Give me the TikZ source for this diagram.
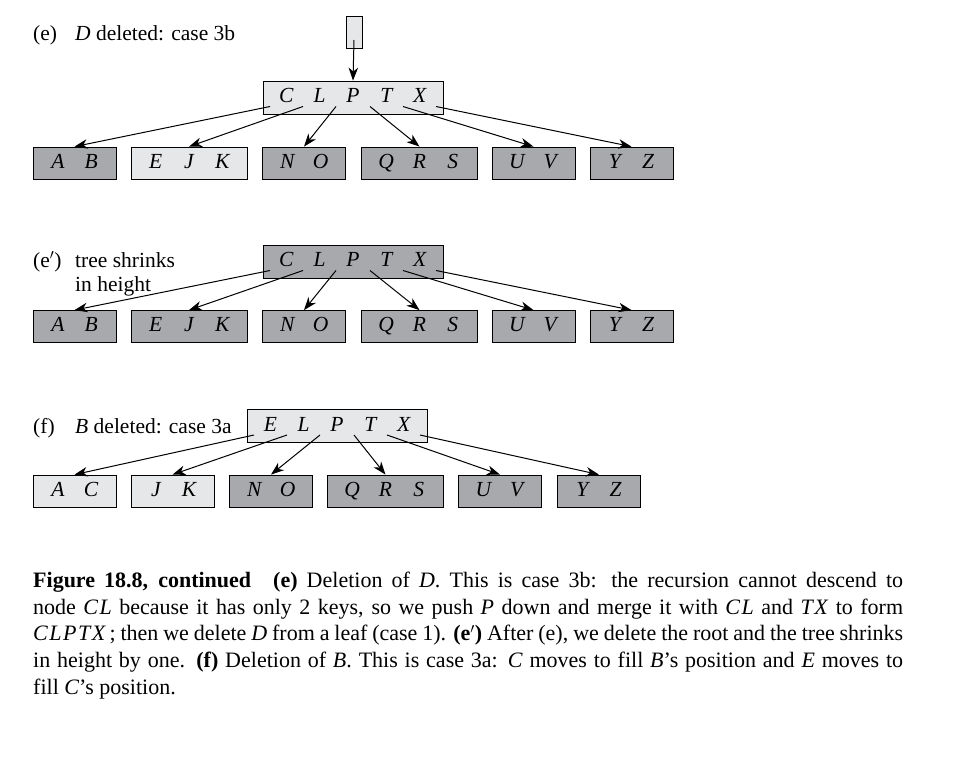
\documentclass[tikz,border=0pt]{standalone}
\usepackage{fontspec}
\setmainfont{Liberation Serif}
\usetikzlibrary{arrows.meta}
\definecolor{keylight}{HTML}{E6E7E8}
\definecolor{keydark}{HTML}{A7A9AC}
\newcommand{\ky}[1]{\makebox[33.3pt]{\itshape\vphantom{Q}#1}}
\newcommand{\kk}[1]{\textit{#1}}
\tikzset{
  btree/.style={draw, line width=0.8pt, inner sep=0pt, minimum height=32pt,
    font=\fontsize{21.5}{24}\selectfont},
  light/.style={btree, fill=keylight},
  dark/.style={btree, fill=keydark},
  two/.style={minimum width=83pt},
  three/.style={minimum width=116pt},
  five/.style={minimum width=180pt, minimum height=33pt},
  caselabel/.style={anchor=base west, inner sep=0pt, font=\fontsize{21.5}{24}\selectfont},
  ptr/.style={-{Stealth[length=13pt,width=9.5pt,inset=4pt]}, line width=1pt},
}
\begin{document}
\begin{tikzpicture}[x=1pt, y=-1pt]
      \useasboundingbox (0,0) rectangle (956,757);
      % (e) D deleted
      \node[caselabel] (elab) at (33,41) {(e)};
      \node[caselabel] (etext) at (75,41) {\textit{D} deleted: case 3b};
      \node[light, minimum width=16pt] (etop) at (354,32) {};
      \node[light, five] (eroot) at (353,97.5) {\ky{C}\ky{L}\ky{P}\ky{T}\ky{X}};
      \node[dark, two] (eab) at (74.5,163) {\ky{A}\ky{B}};
      \node[light, three] (eejk) at (189,163) {\ky{E}\ky{J}\ky{K}};
      \node[dark, two] (eno) at (304,163) {\ky{N}\ky{O}};
      \node[dark, three] (eqrs) at (419.5,163) {\ky{Q}\ky{R}\ky{S}};
      \node[dark, two] (euv) at (533.5,163) {\ky{U}\ky{V}};
      \node[dark, two] (eyz) at (631.5,163) {\ky{Y}\ky{Z}};
      \path
        (354,40) coordinate (etopp)
        (270,106.5) coordinate (e0)
        (303,106.5) coordinate (e1)
        (336,106.5) coordinate (e2)
        (370,106.5) coordinate (e3)
        (403,106.5) coordinate (e4)
        (436,106.5) coordinate (e5);
      % (e') tree shrinks
      \node[caselabel] (eplab) at (33,267) {(e$'$)};
      \node[caselabel] (eptext) at (75,267) {tree shrinks};
      \node[caselabel] (eptext2) at (75,291) {in height};
      \node[dark, five] (eproot) at (353,261.5) {\ky{C}\ky{L}\ky{P}\ky{T}\ky{X}};
      \node[dark, two] (epab) at (74.5,326.5) {\ky{A}\ky{B}};
      \node[dark, three] (epejk) at (189,326.5) {\ky{E}\ky{J}\ky{K}};
      \node[dark, two] (epno) at (304,326.5) {\ky{N}\ky{O}};
      \node[dark, three] (epqrs) at (419.5,326.5) {\ky{Q}\ky{R}\ky{S}};
      \node[dark, two] (epuv) at (533.5,326.5) {\ky{U}\ky{V}};
      \node[dark, two] (epyz) at (631.5,326.5) {\ky{Y}\ky{Z}};
      \path
        (270,270.5) coordinate (ep0)
        (303,270.5) coordinate (ep1)
        (336,270.5) coordinate (ep2)
        (370,270.5) coordinate (ep3)
        (403,270.5) coordinate (ep4)
        (436,270.5) coordinate (ep5);
      % (f) B deleted
      \node[caselabel] (flab) at (33,433) {(f)};
      \node[caselabel] (ftext) at (75,433) {\textit{B} deleted: case 3a};
      \node[light, five] (froot) at (337,426) {\ky{E}\ky{L}\ky{P}\ky{T}\ky{X}};
      \node[light, two] (fac) at (74.5,491) {\ky{A}\ky{C}};
      \node[light, two] (fjk) at (172.5,491) {\ky{J}\ky{K}};
      \node[dark, two] (fno) at (271,491) {\ky{N}\ky{O}};
      \node[dark, three] (fqrs) at (385.5,491) {\ky{Q}\ky{R}\ky{S}};
      \node[dark, two] (fuv) at (500,491) {\ky{U}\ky{V}};
      \node[dark, two] (fyz) at (599,491) {\ky{Y}\ky{Z}};
      \path
        (254,435) coordinate (f0)
        (287,435) coordinate (f1)
        (320,435) coordinate (f2)
        (354,435) coordinate (f3)
        (387,435) coordinate (f4)
        (420,435) coordinate (f5);
      \begin{scope}[ptr]
        \draw (etopp) to (eroot.north);
        \draw (e0) to (eab.north);
        \draw (e1) to (eejk.north);
        \draw (e2) to (eno.north);
        \draw (e3) to (eqrs.north);
        \draw (e4) to (euv.north);
        \draw (e5) to (eyz.north);
        \draw (ep0) to (epab.north);
        \draw (ep1) to (epejk.north);
        \draw (ep2) to (epno.north);
        \draw (ep3) to (epqrs.north);
        \draw (ep4) to (epuv.north);
        \draw (ep5) to (epyz.north);
        \draw (f0) to (fac.north);
        \draw (f1) to (fjk.north);
        \draw (f2) to (fno.north);
        \draw (f3) to (fqrs.north);
        \draw (f4) to (fuv.north);
        \draw (f5) to (fyz.north);
      \end{scope}
      % caption
      \node[anchor=north west, inner sep=0pt, text width=870pt, align=justify,
        font=\fontsize{22}{26.6}\selectfont] (caption) at (33,572)
        {\textbf{Figure 18.8, continued}\quad\textbf{(e)} Deletion of \kk{D}.
        This is case 3b: the recursion cannot descend to\linebreak node \kk{C\kern1.5pt L} because
        it has only 2 keys, so we push \kk{P} down and merge it with \kk{C\kern1.5pt L}
        and \kk{T\kern1.5pt X} to form\linebreak
        \kk{C\kern1.5pt L\kern1.5pt P\kern1.5pt T\kern1.5pt X}\,; then we delete \kk{D} from a leaf
        (case 1). \textbf{(e$'$)} After (e), we delete the root and the tree shrinks\linebreak
        in height by one. \textbf{(f)} Deletion of \kk{B}. This is case 3a:
        \kk{C} moves to fill \kk{B}'s position and \kk{E} moves to\linebreak
        fill \kk{C}'s position.};
    \end{tikzpicture}
\end{document}
